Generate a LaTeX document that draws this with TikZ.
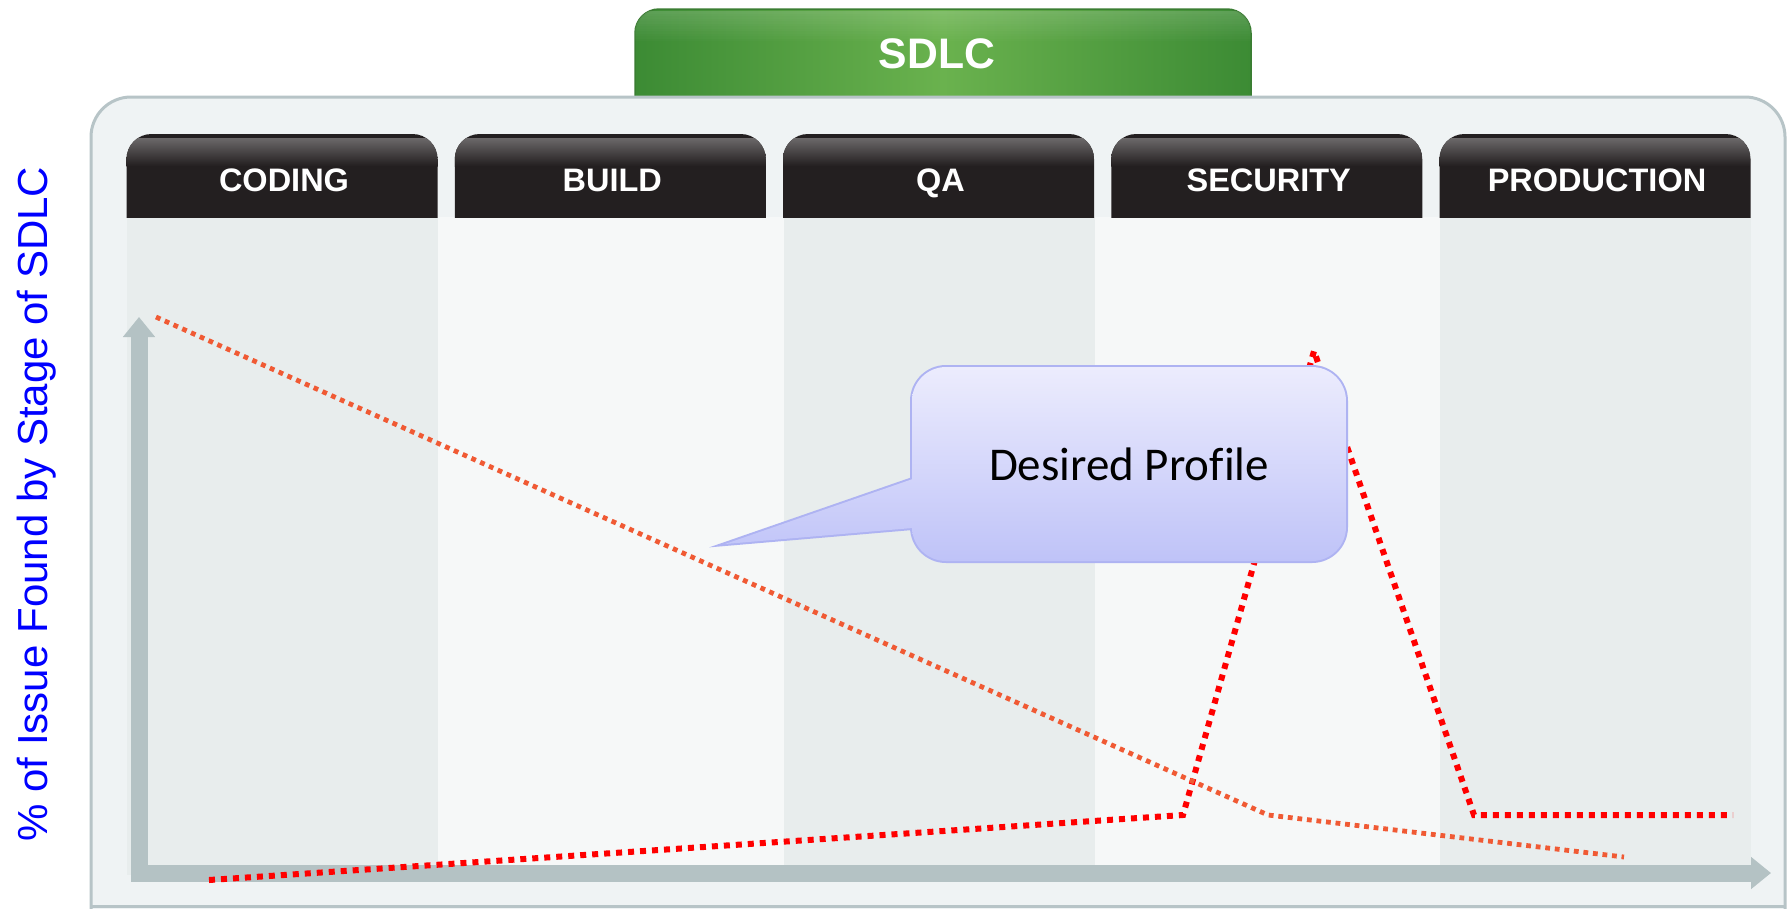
\documentclass[tikz,border=0pt]{standalone}
\usepackage{fontspec}
\setmainfont{Liberation Sans}
\newfontfamily\calib[Ligatures=NoCommon]{Carlito}
\usetikzlibrary{arrows.meta}
\definecolor{framefill}{HTML}{EFF3F4}
\definecolor{framestroke}{HTML}{B7C4C7}
\definecolor{stripdark}{HTML}{E8EDED}
\definecolor{striplight}{HTML}{F6F8F8}
\definecolor{axiscol}{HTML}{B4C2C4}
\definecolor{tabblack}{HTML}{231F20}
\definecolor{tabhi}{HTML}{6B6869}
\definecolor{gedge}{HTML}{3C8B34}
\definecolor{gmid}{HTML}{6AB24E}
\definecolor{gstroke}{HTML}{3A7D32}
\definecolor{redline}{HTML}{FF0000}
\definecolor{orangeline}{HTML}{F05A34}
\definecolor{calltop}{HTML}{ECECFD}
\definecolor{callbot}{HTML}{BFC3F8}
\definecolor{callstroke}{HTML}{AEB3F2}
\definecolor{labelblue}{HTML}{0000FF}
\begin{document}
\begin{tikzpicture}[x=1pt,y=-1pt,
  tabtext/.style={text=white, font=\bfseries\fontsize{32.5}{39}\selectfont, inner sep=0pt, anchor=base},
  redprofile/.style={draw=redline, line width=6pt, dash pattern=on 6pt off 6pt},
  orangeprofile/.style={draw=orangeline, line width=4.8pt, dash pattern=on 4.8pt off 4.8pt},
  callshade/.style={top color=calltop, bottom color=callbot},
]
\useasboundingbox (0,0) rectangle (1787,908);
\fill[white] (0,0) rectangle (1787,908);

% green SDLC tab
\begin{scope}
  \clip (620,0) rectangle (1270,97);
  \shadedraw[left color=gedge, right color=gedge, middle color=gmid, draw=gstroke, line width=1.5pt, rounded corners=24pt] (635,9) rectangle (1251,150);
  \clip[rounded corners=24pt] (635,9) rectangle (1251,150);
  \foreach \k in {0,...,11} {
    \fill[white, opacity={0.16-0.013*\k}] (635,{11+2.5*\k}) rectangle (1251,{13.5+2.5*\k});
  }
\end{scope}
\node[text=white, font=\bfseries\fontsize{42.7}{50}\selectfont, inner sep=0pt] (sdlc) at (937,54) {SDLC};

% frame
\filldraw[fill=framefill, draw=framestroke, line width=3pt, rounded corners=40pt] (91,97) rectangle (1785,990);
\draw[framestroke, line width=3pt] (91,906.5) -- (1785,906.5);

% column strips
\fill[stripdark]  (126.5,217) rectangle (438,875);
\fill[striplight] (438,217) rectangle (784,875);
\fill[stripdark]  (784,217) rectangle (1094.5,875);
\fill[striplight] (1094.5,217) rectangle (1439.5,875);
\fill[stripdark]  (1439.5,217) rectangle (1751,875);

% stage tabs
\foreach \i/\t in {0/CODING,1/BUILD,2/QA,3/SECURITY,4/PRODUCTION} {
  \pgfmathsetmacro\xa{126.5+328.25*\i}
  \pgfmathsetmacro\xb{\xa+311}
  \begin{scope}
    \clip (\xa,130) rectangle (\xb,217);
    \fill[tabblack, rounded corners=25pt] (\xa,134) rectangle (\xb,260);
    \clip[rounded corners=25pt] (\xa,134) rectangle (\xb,260);
    \shade[top color=tabhi, bottom color=tabblack] (\xa,138) rectangle (\xb,166);
  \end{scope}
  \node[tabtext] (tab\i) at ({(\xa+\xb)/2+2},191) {\t};
}

% axes
\coordinate (ytip) at (139,317);
\coordinate (origin) at (139,873);
\coordinate (xtip) at (1771,873);
\draw[axiscol, line width=17pt, line join=miter,
  {Triangle[length=20pt,width=31pt]}-{Triangle[length=20pt,width=31pt]}] (ytip) -- (origin) -- (xtip);

% profiles
\coordinate (r1) at (209,880);
\coordinate (r2) at (1183,815);
\coordinate (r3) at (1314,351);
\coordinate (r4) at (1474,815);
\coordinate (r5) at (1733,815);
\draw[redprofile] (r1) -- (r2) -- (r3) -- (r4) -- (r5);
\coordinate (o1) at (156,317);
\coordinate (o2) at (1268,815);
\coordinate (o3) at (1624,857);
\draw[orangeprofile] (o1) -- (o2) -- (o3);

% callout
\coordinate (ptip) at (725,544);
\coordinate (pa) at (930,473);
\coordinate (pb) at (930,526.5);
\node[draw=callstroke, line width=4pt, rounded corners=34pt, minimum width=434pt, minimum height=194pt, inner sep=0pt, outer sep=0pt] (callbox) at (1129,464) {};
\draw[callstroke, line width=4pt] (ptip) -- (pa) -- (pb) -- cycle;
\begin{scope}
  \clip[rounded corners=34pt] (callbox.north west) rectangle (callbox.south east);
  \shade[callshade] (700,367) rectangle (1346,561);
\end{scope}
\begin{scope}
  \clip (ptip) -- (pa) -- (pb) -- cycle;
  \shade[callshade] (700,367) rectangle (1346,561);
\end{scope}
\node[font=\calib\fontsize{47}{56}\selectfont, inner sep=0pt] (calltext) at (callbox.center) {Desired Profile};

% y label
\node[rotate=90, anchor=base, text=labelblue, font=\fontsize{42}{50}\selectfont, inner sep=0pt] (ylabel) at (47,504) {\% of Issue Found by Stage of SDLC};
\end{tikzpicture}
\end{document}
